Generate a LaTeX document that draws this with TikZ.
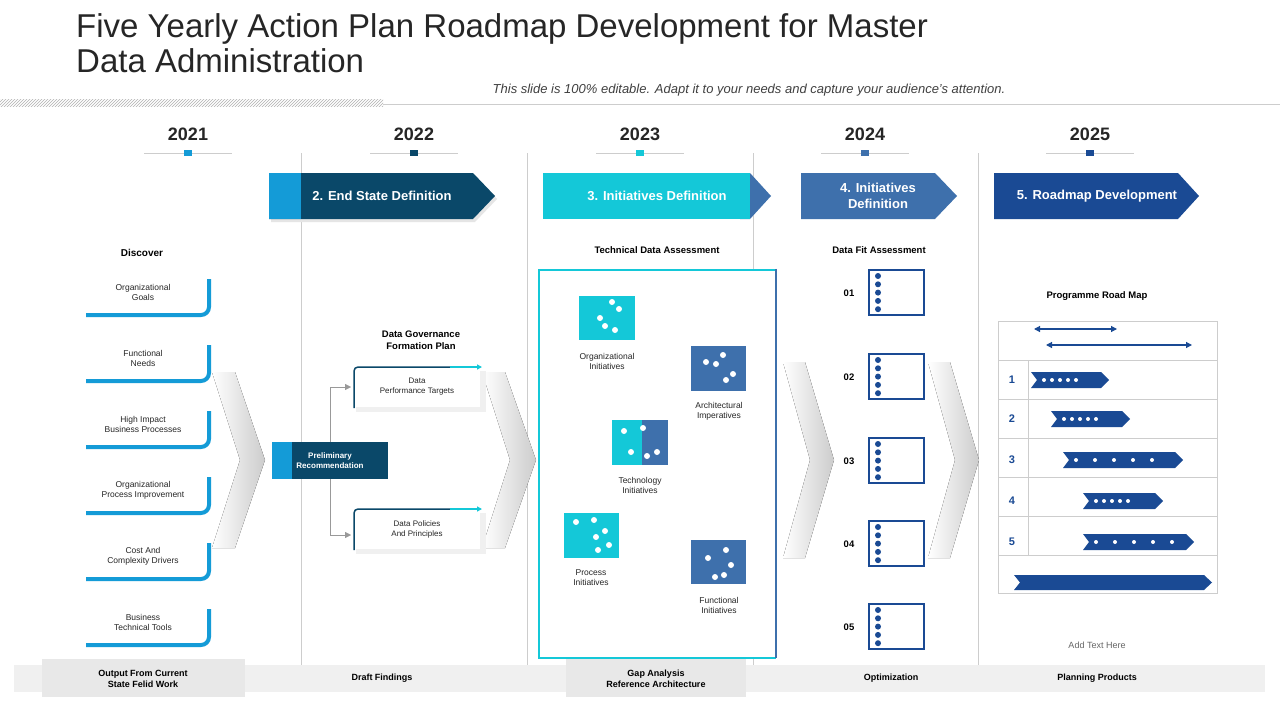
\documentclass[tikz,border=0pt]{standalone}
\usepackage{fontspec}
\setmainfont{Liberation Sans}
\usetikzlibrary{arrows.meta,patterns}
\definecolor{lblue}{RGB}{20,155,215}
\definecolor{dteal}{RGB}{10,72,105}
\definecolor{cyanc}{RGB}{20,200,216}
\definecolor{steel}{RGB}{62,112,172}
\definecolor{navy}{RGB}{26,74,148}
\definecolor{lgray}{RGB}{205,205,205}
\definecolor{bar}{RGB}{240,240,240}
\tikzset{
 txt/.style={font=\fontsize{8.5}{10}\selectfont, align=center, text=black!85},
 btxt/.style={font=\bfseries\fontsize{10}{12}\selectfont, align=center},
 bann/.style={font=\bfseries\fontsize{13}{16}\selectfont, text=white, align=center},
 vline/.style={draw=lgray, line width=0.8pt},
 brk/.style={draw=lblue, line width=4pt, rounded corners=8pt},
 wdot/.style={fill=white, draw=none},
 ndot/.style={fill=navy, draw=none},
 chev/.style={left color=white, right color=black!20, draw=none},
}
\begin{document}
\begin{tikzpicture}[x=1pt,y=-1pt]
\useasboundingbox (0,0) rectangle (1280,720);
\fill[white] (0,0) rectangle (1280,720);
% title
\node[anchor=west, font=\fontsize{33}{35}\selectfont, align=left, text=black!85, inner sep=0] (title) at (76,43) {Five Yearly Action Plan Roadmap Development for Master\\Data Administration};
\fill[pattern=north east lines, pattern color=black!30] (0,99) rectangle (383,106);
\draw[lgray] (383,104) -- (1280,104);
\node[font=\itshape\fontsize{13}{14}\selectfont, text=black!75] (sub) at (749,90) {This slide is 100\% editable. Adapt it to your needs and capture your audience's attention.};
% years
\foreach \x/\y/\c in {188/2021/lblue,414/2022/dteal,640/2023/cyanc,865/2024/steel,1090/2025/navy}{
 \node[font=\bfseries\fontsize{18}{20}\selectfont, text=black!85] (y\y) at (\x,134) {\y};
 \draw[lgray] (\x-44,153) -- (\x+44,153);
 \fill[\c] (\x-4,150) rectangle (\x+4,156);
}
\foreach \x in {301,527,753,978}{\draw[vline] (\x,153) -- (\x,665);}
% chevrons gray
\fill[chev] (212,372) -- (235,372) -- (265,460) -- (235,548) -- (212,548) -- (240,460) -- cycle;
\fill[chev] (482,372) -- (505,372) -- (536,460) -- (505,548) -- (482,548) -- (510,460) -- cycle;
\fill[chev] (783,362) -- (805,362) -- (834,460) -- (805,558) -- (783,558) -- (810,460) -- cycle;
\fill[chev] (928,362) -- (950,362) -- (979,460) -- (950,558) -- (928,558) -- (955,460) -- cycle;
% banners
\fill[black!10] (271,176) -- (475,176) -- (497,199) -- (475,222) -- (271,222) -- cycle;
\fill[dteal] (269,173) -- (473,173) -- (495,196) -- (473,219) -- (269,219) -- cycle;
\fill[lblue] (269,173) rectangle (301,219);
\node[bann] (b2) at (382,196) {2. End State Definition};
\fill[steel] (740,173) -- (750,173) -- (771,196) -- (750,219) -- (740,219) -- cycle;
\fill[cyanc] (543,173) rectangle (750,219);
\node[bann] (b3) at (657,196) {3. Initiatives Definition};
\fill[steel] (801,173) -- (935,173) -- (957,196) -- (935,219) -- (801,219) -- cycle;
\node[bann, font=\bfseries\fontsize{13}{16}\selectfont] (b4) at (878,196) {4. Initiatives\\Definition};
\fill[navy] (994,173) -- (1178,173) -- (1199,196) -- (1178,219) -- (994,219) -- cycle;
\node[bann] (b5) at (1097,196) {5. Roadmap Development};
% discover
\node[btxt] (disc) at (142,253) {Discover};
\foreach \t [count=\i] in {{Organizational\\Goals},{Functional\\Needs},{High Impact\\Business Processes},{Organizational\\Process Improvement},{Cost And\\Complexity Drivers},{Business\\Technical Tools}}{
 \pgfmathsetmacro{\yy}{292+66*(\i-1)}
 \node[txt] (d\i) at (143,\yy) {\t};
 \draw[brk] (209,\yy-13) -- (209,\yy+23) -- (86,\yy+23);
}
% preliminary
\node[fill=dteal, minimum width=96pt, minimum height=37pt, inner sep=0] (pre) at (340,460.5) {};
\fill[lblue] (272,442) rectangle (292,479);
\node[font=\bfseries\fontsize{8}{10}\selectfont, text=white, align=center] (pret) at (330,460.5) {Preliminary\\Recommendation};
\node[btxt, font=\bfseries\fontsize{9.5}{12}\selectfont] (dgf) at (421,340) {Data Governance\\Formation Plan};
% cards
\foreach \n/\yt/\t in {c1/367/{Data\\Performance Targets},c2/509/{Data Policies\\And Principles}}{
 \fill[black!6] (356,\yt+4) rectangle (486,\yt+45);
 \fill[white] (352,\yt) rectangle (480,\yt+40);
 \node[txt, font=\fontsize{8}{10}\selectfont] (\n) at (417,\yt+20) {\t};
 \draw[dteal, line width=1.5pt, rounded corners=4pt] (354,\yt+41) -- (354,\yt) -- (450,\yt);
 \draw[cyanc, line width=1.5pt, -{Triangle[length=5pt,width=5pt]}] (450,\yt) -- (482,\yt);
}
\draw[black!40,-{Triangle[length=6pt,width=6pt]}] (330,442) -- (330,387) -- (351,387);
\draw[black!40,-{Triangle[length=6pt,width=6pt]}] (330,479) -- (330,535) -- (351,535);
% technical assessment
\node[btxt, font=\bfseries\fontsize{9.5}{12}\selectfont] (tda) at (657,250) {Technical Data Assessment};
\node[btxt, font=\bfseries\fontsize{9.5}{12}\selectfont] (dfa) at (879,250) {Data Fit Assessment};
\fill[white] (539,270) rectangle (776,658);
\draw[cyanc, line width=2.5pt] (776,270) -- (539,270) -- (539,658) -- (776,658);
\draw[steel, line width=2.5pt] (776,268.8) -- (776,658);
% icons
\fill[cyanc] (579,296) rectangle (635,340);
\foreach \a/\b in {612/302,619/309,600/318,605/326,615/330}{\fill[wdot] (\a,\b) circle (3);}
\node[txt] (oi) at (607,361) {Organizational\\Initiatives};
\fill[steel] (691,346) rectangle (746,391);
\foreach \a/\b in {723/355,706/362,716/364,733/374,726/380}{\fill[wdot] (\a,\b) circle (3);}
\node[txt] (ai) at (719,411) {Architectural\\Imperatives};
\fill[cyanc] (612,420) rectangle (642,465);
\fill[steel] (642,420) rectangle (668,465);
\foreach \a/\b in {624/431,643/428,631/452,647/456,657/452}{\fill[wdot] (\a,\b) circle (3);}
\node[txt] (ti) at (640,485) {Technology\\Initiatives};
\fill[cyanc] (564,513) rectangle (619,558);
\foreach \a/\b in {576/522,594/520,605/531,596/537,609/545,598/550}{\fill[wdot] (\a,\b) circle (3);}
\node[txt] (pi) at (591,578) {Process\\Initiatives};
\fill[steel] (691,540) rectangle (746,584);
\foreach \a/\b in {726/550,708/558,731/565,724/575,715/577}{\fill[wdot] (\a,\b) circle (3);}
\node[txt] (fi) at (719,605) {Functional\\Initiatives};
% data fit boxes
\foreach \i/\yt in {1/270,2/354,3/438,4/521,5/604}{
 \draw[navy, line width=1.5pt, fill=white] (869,\yt) rectangle (924,\yt+45);
 \node[font=\bfseries\fontsize{9.5}{11}\selectfont] (n\i) at (849,\yt+23) {0\i};
 \foreach \k in {0,...,4}{\fill[ndot] (878,\yt+6+\k*8.3) circle (3);}
}
% programme road map
\node[btxt, font=\bfseries\fontsize{9.5}{12}\selectfont] (prm) at (1097,296) {Programme Road Map};
\draw[lgray, line width=0.8pt] (998,321) rectangle (1217,593);
\foreach \yy in {360,399,438,477,516,555}{\draw[lgray, line width=0.8pt] (998,\yy) -- (1217,\yy);}
\draw[lgray, line width=0.8pt] (1028,360) -- (1028,555);
\draw[navy, line width=1.2pt, {Triangle[length=6pt,width=6pt]}-{Triangle[length=6pt,width=6pt]}] (1034,329) -- (1117,329);
\draw[navy, line width=1.2pt, {Triangle[length=6pt,width=6pt]}-{Triangle[length=6pt,width=6pt]}] (1046,345) -- (1192,345);
\foreach \i/\a/\b/\yc/\gap in {1/1031/1109/380/8,2/1051/1130/419/8,3/1063/1183/460/19,4/1083/1163/501/8,5/1083/1194/542/19}{
 \node[font=\bfseries\fontsize{11}{12}\selectfont, text=navy] (r\i) at (1012,\yc) {\i};
 \fill[navy] (\a,\yc-8) -- (\b-8,\yc-8) -- (\b,\yc) -- (\b-8,\yc+8) -- (\a,\yc+8) -- (\a+6,\yc) -- cycle;
 \foreach \k in {0,...,4}{\fill[wdot] (\a+13+\k*\gap,\yc) circle (2);}
}
\fill[navy] (1014,575) -- (1204,575) -- (1212,582.5) -- (1204,590) -- (1014,590) -- (1020,582.5) -- cycle;
\node[txt, text=black!60, font=\fontsize{9}{11}\selectfont] (add) at (1097,645) {Add Text Here};
% bottom bar
\fill[bar] (14,665) rectangle (1265,692);
\fill[black!9] (42,659) rectangle (245,697);
\fill[black!9] (566,659) rectangle (746,697);
\foreach \x/\t [count=\i] in {143/{Output From Current\\State Felid Work},382/{Draft Findings},656/{Gap Analysis\\Reference Architecture},891/{Optimization},1097/{Planning Products}}{
 \node[btxt, font=\bfseries\fontsize{9}{11}\selectfont] (f\i) at (\x,678.5) {\t};
}
\end{tikzpicture}
\end{document}
